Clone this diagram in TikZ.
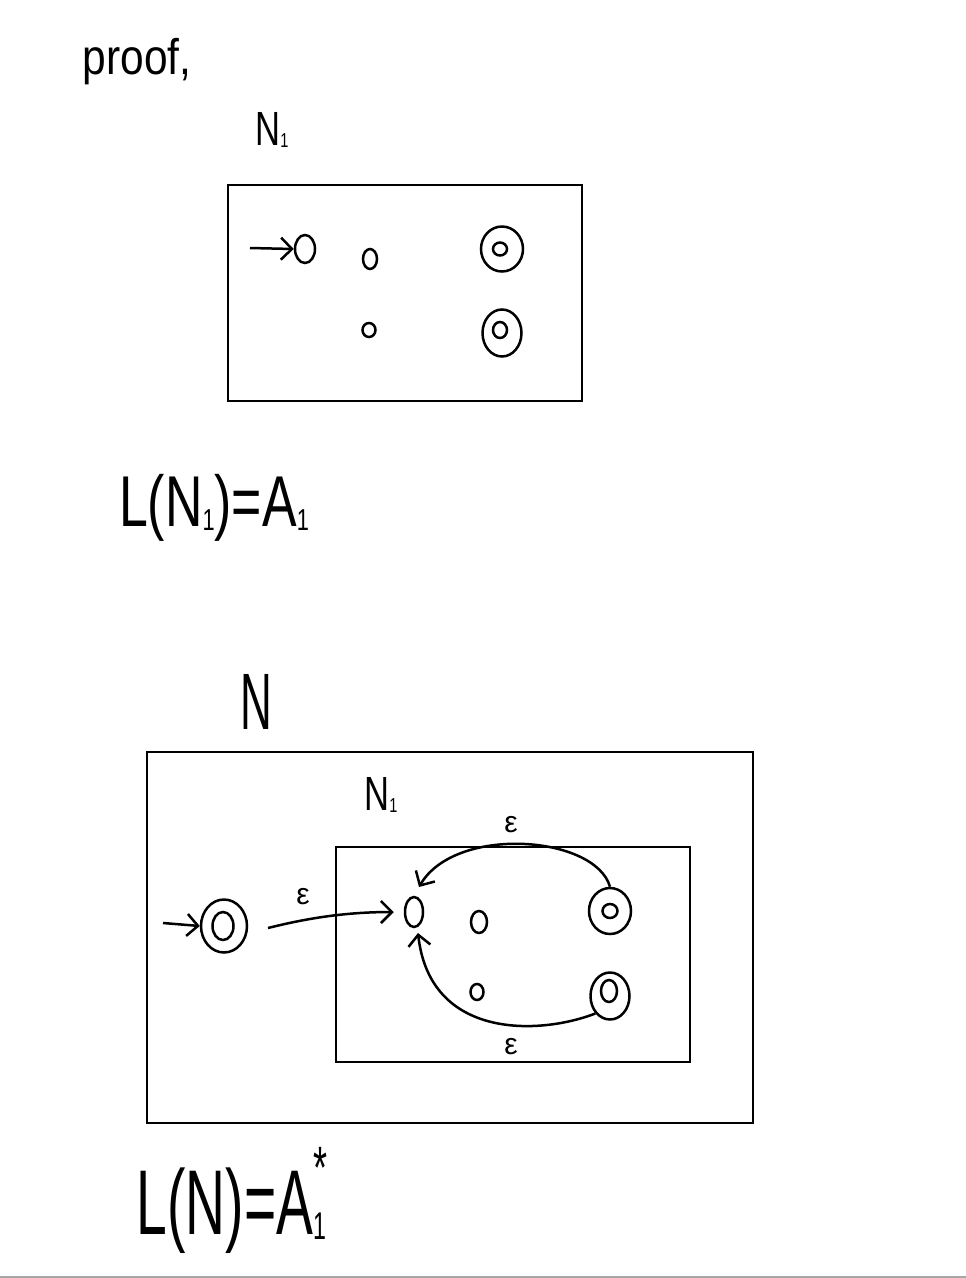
\documentclass[tikz,border=0pt]{standalone}
\usepackage{fontspec}
\usepackage{graphicx}
\setmainfont{Liberation Sans}
\usetikzlibrary{arrows.meta,shapes.geometric}
\newcommand{\mysub}[1]{\raisebox{-0.06em}{\scalebox{0.42}{#1}}}
\newcommand{\mysup}[1]{\raisebox{0.5em}{\scalebox{0.65}{#1}}}
\begin{document}
\begin{tikzpicture}[x=1pt,y=-1pt,line width=2.5pt,
  st/.style={draw,ellipse,inner sep=0pt,line width=2.5pt},
  box/.style={draw,line width=2pt},
  txt/.style={inner sep=0pt},
  arr/.style={-{Straight Barb[length=11pt,width=22pt,line width=2.5pt]}},
  eps/.style={inner sep=0pt,font=\fontsize{30}{30}\selectfont}]
\path[use as bounding box] (0,0) rectangle (966,1278);
\fill[white] (0,0) rectangle (966,1278);
\draw[gray!70,line width=2pt] (0,1276.5) -- (966,1276.5);

% heading
\node[txt,font=\fontsize{50}{50}\selectfont] (proof) at (137,62) {\scalebox{0.85}[1]{proof,}};

% ---------- N1 ----------
\node[txt,font=\fontsize{48}{48}\selectfont] (lblNa) at (272,130) {\scalebox{0.72}[1]{N\mysub{1}}};
\draw[box] (228,185) rectangle (582,401);
\node[st,minimum width=20pt,minimum height=28pt] (a1) at (305,249) {};
\node[st,minimum width=14pt,minimum height=20pt] (a2) at (370,259) {};
\node[st,minimum width=13pt,minimum height=14pt] (a3) at (369,330) {};
\node[st,minimum width=42pt,minimum height=45pt] (a4) at (502,249) {};
\node[st,minimum width=14pt,minimum height=13pt] (a4i) at (500,249) {};
\node[st,minimum width=39pt,minimum height=47pt] (a5) at (502,333) {};
\node[st,minimum width=14pt,minimum height=16pt] (a5i) at (500,330) {};
\coordinate (a1in) at (250,248);
\draw[arr] (a1in) -- (a1.west);

\node[txt,font=\fontsize{72}{72}\selectfont] (eq1) at (214,508) {\scalebox{0.72}[1]{L(N\mysub{1})=A\mysub{1}}};

% ---------- N ----------
\node[txt,font=\fontsize{80}{80}\selectfont] (lblN) at (256,702) {\scalebox{0.55}[1]{N}};
\draw[box] (147,752) rectangle (753,1123);
\node[txt,font=\fontsize{48}{48}\selectfont] (lblNb) at (381,795) {\scalebox{0.72}[1]{N\mysub{1}}};
\draw[box] (336,847) rectangle (690,1062);

\node[st,minimum width=46pt,minimum height=53pt] (s) at (224,926) {};
\node[st,minimum width=21pt,minimum height=28pt] (si) at (223,926) {};
\coordinate (sin) at (163,923);
\draw[arr] (sin) -- (s.west);

\node[st,minimum width=18pt,minimum height=30pt] (b1) at (414,912) {};
\node[st,minimum width=16pt,minimum height=22pt] (b2) at (479,922) {};
\node[st,minimum width=13pt,minimum height=16pt] (b3) at (477,992) {};
\node[st,minimum width=42pt,minimum height=46pt] (b4) at (610,911) {};
\node[st,minimum width=15pt,minimum height=14pt] (b4i) at (610,911) {};
\node[st,minimum width=39pt,minimum height=47pt] (b5) at (610,996) {};
\node[st,minimum width=16pt,minimum height=22pt] (b5i) at (609,991) {};

\coordinate (e0) at (268,928);
\draw[arr,shorten >=10pt] (e0) .. controls (300,920) and (340,912) .. (b1.west);
\node[eps] (eps1) at (303,897) {ε};

\coordinate (topend) at (419,887);
\draw[arr] (b4.north) .. controls (595,835) and (455,825) .. (topend);
\node[eps] (eps2) at (511,825) {ε};

\coordinate (botend) at (418,933);
\draw[arr] (b5.south west) .. controls (540,1035) and (430,1040) .. (botend);
\node[eps] (eps3) at (511,1047) {ε};

\node[txt,font=\fontsize{92}{92}\selectfont] (eq2) at (232,1200) {\scalebox{0.6}[1]{L(N)=A\rlap{\mysub{1}}\mysup{*}}};
\end{tikzpicture}
\end{document}
